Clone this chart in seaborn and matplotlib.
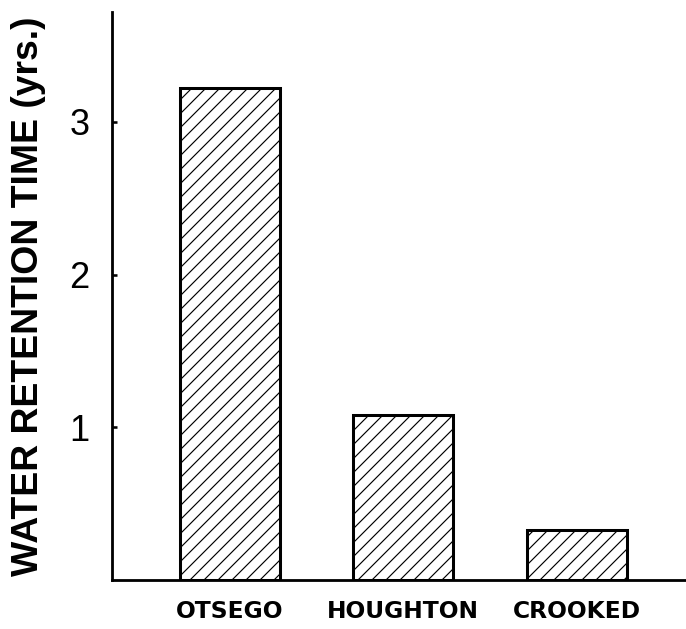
import matplotlib
matplotlib.use('Agg')
import matplotlib.pyplot as plt
import seaborn as sns
import pandas as pd

# data
lakes = ['OTSEGO', 'HOUGHTON', 'CROOKED']
retention_yrs = [3.22, 1.08, 0.33]
y_ticks = [1, 2, 3]
y_tick_labels = ['1', '2', '3']
y_label = 'WATER RETENTION TIME (yrs.)'

sns.set_theme(style='white')
plt.rcParams['font.family'] = ['DejaVu Sans']
plt.rcParams['hatch.linewidth'] = 1.0
plt.rcParams['hatch.color'] = 'black'

DPI = 84
W, H = 686, 629
fig = plt.figure(figsize=(W / DPI, H / DPI), dpi=DPI)
fig.patch.set_facecolor('white')
ax = fig.add_axes([112 / W, 49 / H, 574 / W, 568 / H])

df = pd.DataFrame({'lake': lakes, 'yrs': retention_yrs})
sns.barplot(data=df, x='lake', y='yrs', ax=ax, color='white', saturation=1,
            edgecolor='black', linewidth=2.6, width=0.575, hatch='//', errorbar=None)

ax.set_xlim(-0.68, 2.63)
ax.set_ylim(0, 3.72)
ax.set_facecolor('white')

for s in ['top', 'right']:
    ax.spines[s].set_visible(False)
for s in ['left', 'bottom']:
    ax.spines[s].set_color('black')
    ax.spines[s].set_linewidth(2.4)

ax.set_yticks(y_ticks)
ax.set_yticklabels(y_tick_labels, fontfamily=['Liberation Sans', 'DejaVu Sans'],
                   fontsize=31, color='black')
ax.tick_params(axis='y', direction='in', length=4, width=2.2, pad=19, colors='black', left=True)
ax.tick_params(axis='x', length=0, pad=17)
for t in ax.get_xticklabels():
    t.set_fontsize(20)
    t.set_fontweight('bold')
    t.set_color('black')

ax.set_xlabel('')
ax.set_ylabel(y_label, fontfamily=['Liberation Sans', 'DejaVu Sans'],
              fontsize=32, fontweight='bold', color='black')
ax.yaxis.set_label_coords(-0.146, 0.5)
ax.yaxis.label.set_va('center')

fig.savefig('out.png', dpi=DPI, facecolor='white')
